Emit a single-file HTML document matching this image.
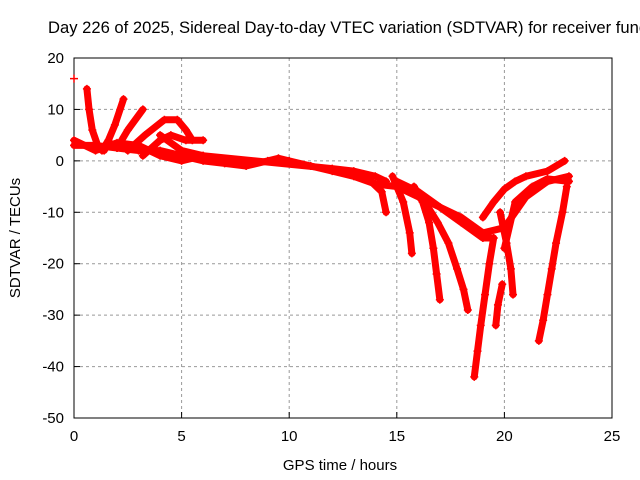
<!DOCTYPE html>
<html><head><meta charset="utf-8"><style>
html,body{margin:0;padding:0;background:#fff;}
svg{display:block;font-family:"Liberation Sans",sans-serif;}
</style></head><body>
<svg id="chart" width="640" height="480">
<text x="48" y="33" font-size="16.6" fill="#000">Day 226 of 2025, Sidereal Day-to-day VTEC variation (SDTVAR) for receiver func</text>
<g id="grid"></g>
<g id="axes"></g>
<g id="marks"></g>
<text x="340" y="470" font-size="15" text-anchor="middle">GPS time / hours</text>
<text transform="translate(20,238) rotate(-90)" font-size="15" text-anchor="middle">SDTVAR / TECUs</text>
</svg>
<script>
const xTicks=[0,5,10,15,20,25];
const yTicks=[20,10,0,-10,-20,-30,-40,-50];
const track1=[[0,3],[1,3],[2,2.5],[3,2],[4,2],[5,1],[6,0],[7,-0.5],[8,-1],[9,0],[9.5,0.5],[10,0],[11,-1],[12,-2],[13,-3],[14,-4.5],[15,-5],[16,-7],[17,-9],[18,-11],[19,-14],[20,-13],[21,-7],[22,-4],[23,-3]];
const track2=[[0,4],[1,2],[2,3.5],[3,3],[4,1],[5,0],[6,1],[12,-1.5],[13,-2],[14,-3],[14.5,-4]];
const track3=[[0.6,14],[0.7,10],[0.85,6],[1.1,3],[1.4,2]];
const track4=[[1.3,2],[1.6,4],[1.9,7],[2.3,12]];
const track5=[[2,2.5],[2.5,6],[3.2,10]];
const track6=[[2.5,2],[3.3,5],[4.2,8],[4.8,8],[5.2,6],[5.5,4]];
const track7=[[3.2,1],[4,4],[4.5,5],[5.2,4],[6,4]];
const track8=[[4,5],[5,2],[6,1]];
const track9=[[13.8,-4],[14.3,-6],[14.5,-10]];
const track10=[[14.8,-3],[15.3,-8],[15.6,-14],[15.7,-18]];
const track11=[[15.8,-5],[16.2,-8],[16.5,-12],[16.7,-17],[16.85,-22],[17,-27]];
const track12=[[16.3,-8],[16.9,-12],[17.4,-16],[17.8,-21],[18.1,-25],[18.3,-29]];
const track13=[[19.5,-15],[19.3,-20],[19.1,-26],[18.9,-32],[18.75,-37],[18.6,-42]];
const track14=[[19.9,-24],[19.7,-28],[19.6,-32]];
const track15=[[19.8,-10],[20.1,-16],[20.3,-21],[20.4,-26]];
const track16=[[22.9,-5],[22.7,-10],[22.4,-16],[22.2,-21],[22,-26],[21.8,-31],[21.6,-35]];
const track17=[[19,-11],[19.5,-8],[20,-5.5],[20.5,-4],[21,-3],[22,-2],[22.8,0]];
const track18=[[20,-17],[20.5,-8],[21.3,-5],[22,-3.5],[23,-4]];
const track19=[[15,-4],[16,-6],[17,-9],[18,-12],[19,-15],[19.5,-15]];
const outliers=[[0,16]];
const tracks=[track1,track2,track3,track4,track5,track6,track7,track8,track9,track10,track11,track12,track13,track14,track15,track16,track17,track18,track19];

const X0=74,X1=612,Y0=58,Y1=418,xmin=0,xmax=25,ymin=-50,ymax=20;
const xs=h=>X0+(h-xmin)/(xmax-xmin)*(X1-X0);
const ys=v=>Y1-(v-ymin)/(ymax-ymin)*(Y1-Y0);
const NS='http://www.w3.org/2000/svg';
function mk(tag,attrs,parent){const e=document.createElementNS(NS,tag);for(const k in attrs)e.setAttribute(k,attrs[k]);parent.appendChild(e);return e;}
const grid=document.getElementById('grid'),axes=document.getElementById('axes'),marks=document.getElementById('marks');
xTicks.forEach(t=>{
  const x=xs(t);
  if(t>xmin&&t<xmax){const l=mk('line',{x1:x,y1:Y0,x2:x,y2:Y1,stroke:'#999','stroke-dasharray':'3,3'},grid);
  
  }
  const tk=mk('line',{x1:x,y1:Y1,x2:x,y2:Y1-6,stroke:'#000'},axes);
  
  
  const tx=mk('text',{x:x,y:Y1+23,'font-size':15,'text-anchor':'middle'},axes);
  tx.textContent=t;
  
  
});
yTicks.forEach(t=>{
  const y=ys(t);
  if(t>ymin&&t<ymax){const l=mk('line',{x1:X0,y1:y,x2:X1,y2:y,stroke:'#999','stroke-dasharray':'3,3'},grid);
  
  }
  const tk=mk('line',{x1:X0,y1:y,x2:X0+6,y2:y,stroke:'#000'},axes);
  
  
  const tx=mk('text',{x:X0-10,y:y+5,'font-size':15,'text-anchor':'end'},axes);
  tx.textContent=t;
  
  
});
const frame=mk('rect',{x:X0,y:Y0,width:X1-X0,height:Y1-Y0,fill:'none',stroke:'#000'},axes);


function plus(h,v){
  const x=xs(h),y=ys(v);
  const p=mk('path',{d:`M${x-4},${y}H${x+4}M${x},${y-4}V${y+4}`,stroke:'#f00','stroke-width':1.5},marks);
  
  
}
tracks.forEach(tr=>{
  const pl=mk('polyline',{points:tr.map(p=>xs(p[0])+','+ys(p[1])).join(' '),fill:'none',stroke:'#f00','stroke-width':7,'stroke-linejoin':'round','stroke-linecap':'round'},marks);
  
  
  tr.forEach(p=>plus(p[0],p[1]));
});
outliers.forEach(p=>plus(p[0],p[1]));
</script>
</body></html>
